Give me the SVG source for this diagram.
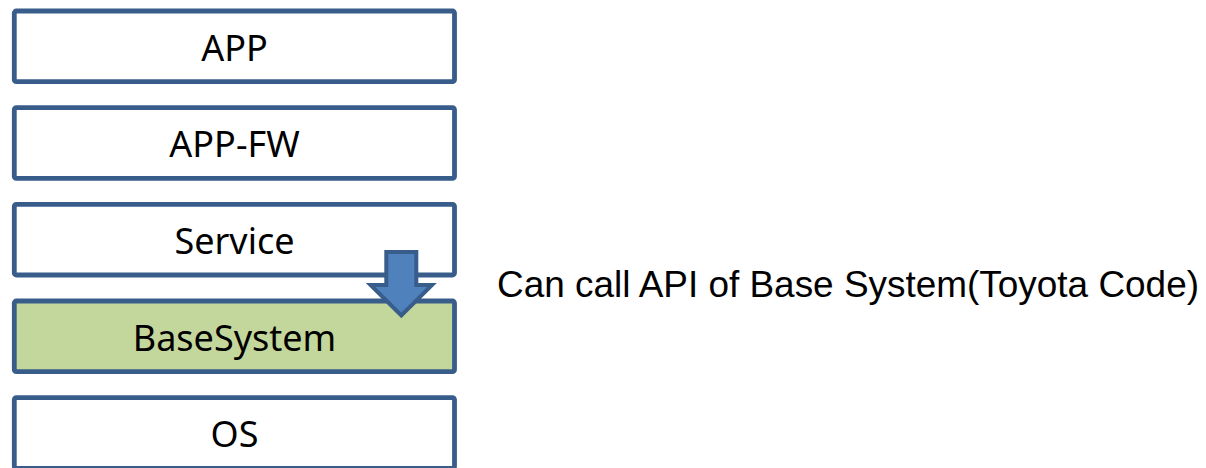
<svg xmlns="http://www.w3.org/2000/svg" width="1206" height="468" viewBox="0 0 1206 468">
<style>
.box{fill:#FFFFFF;stroke:#385D8A;stroke-width:4.8}
.green{fill:#C3D69B}
.lbl{font-family:"Noto Sans","Open Sans",sans-serif;font-size:36px;fill:#000;text-anchor:middle}
.note{font-family:"Liberation Sans",Arial,sans-serif;font-size:37px;fill:#000}
.arrow{fill:#4F81BD;stroke:#385D8A;stroke-width:4;stroke-linejoin:miter}
</style>
<rect width="1206" height="468" fill="#FFFFFF"/>
<g id="app"><rect class="box" x="14.3" y="11" width="440.2" height="70.7" rx="2"/><text class="lbl" x="234.5" y="60.7">APP</text></g>
<g id="app-fw"><rect class="box" x="14.3" y="107.7" width="440.2" height="70.7" rx="2"/><text class="lbl" x="234.5" y="157.4">APP-FW</text></g>
<g id="service"><rect class="box" x="14.3" y="204.3" width="440.2" height="70.7" rx="2"/><text class="lbl" x="234.5" y="254">Service</text></g>
<g id="basesystem"><rect class="box green" x="14.3" y="301" width="440.2" height="70.7" rx="2"/><text class="lbl" x="234.5" y="350.7">BaseSystem</text></g>
<g id="os"><rect class="box" x="14.3" y="397.7" width="440.2" height="70.7" rx="2"/><text class="lbl" x="234.5" y="447.4">OS</text></g>
<g id="connectors"><path class="arrow" d="M386.3,252 L416.3,252 L416.3,285 L432,285 L401.3,315.5 L370.6,285 L386.3,285 Z"/></g>
<g id="note"><text class="note" x="497" y="297" textLength="702" lengthAdjust="spacingAndGlyphs">Can call API of Base System(Toyota Code)</text></g>
</svg>
